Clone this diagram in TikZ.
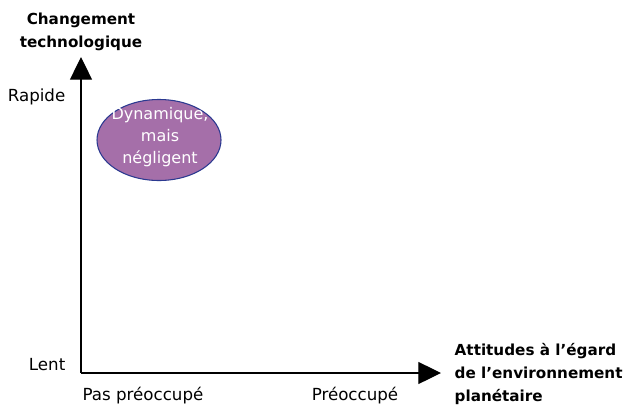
\documentclass[tikz,border=0pt]{standalone}
\usepackage{fontspec}
\setmainfont{DejaVu Sans}
\usetikzlibrary{calc,shapes.geometric,arrows.meta}
\definecolor{mauve}{HTML}{A56FA9}
\definecolor{bord}{HTML}{2B3990}
\begin{document}
\begin{tikzpicture}[x=0.75pt,y=-0.75pt,every node/.style={font=\fontsize{12.5}{14}\selectfont}]
\useasboundingbox (0,0) rectangle (630,407);
%Nodes
\path
 (81,373) coordinate (o)
 (81,57) coordinate (ytip)
 (441,373) coordinate (xtip)
 (159,140) node[ellipse,draw=bord,line width=0.8pt,fill=mauve,minimum width=124pt*0.75,minimum height=81pt*0.75,inner sep=0pt] (dyn) {}
 (160,137) node[text=white,align=center,font=\fontsize{12}{16.5}\selectfont] (dyntxt) {Dynamique,\\mais\\négligent}
 (81,32) node[align=center,font=\bfseries\fontsize{11.4}{17.5}\selectfont] (ylab) {Changement\\technologique}
 (70,97) node[anchor=east] (rapide) {Rapide}
 (70,365) node[anchor=east] (lent) {Lent}
 (143,396) node (pas) {Pas préoccupé}
 (355,396) node (preoc) {Préoccupé}
 (450,374) node[anchor=west,align=left,font=\bfseries\fontsize{11.4}{17.5}\selectfont] (xlab) {Attitudes à l’égard\\de l’environnement\\planétaire}
 ;
%Edges
\draw[-{Triangle[width=16.5pt,length=17pt]},line width=0.9pt] (o) -- (ytip);
\draw[-{Triangle[width=16.5pt,length=17pt]},line width=0.9pt] (o) -- (xtip);
\end{tikzpicture}
\end{document}
